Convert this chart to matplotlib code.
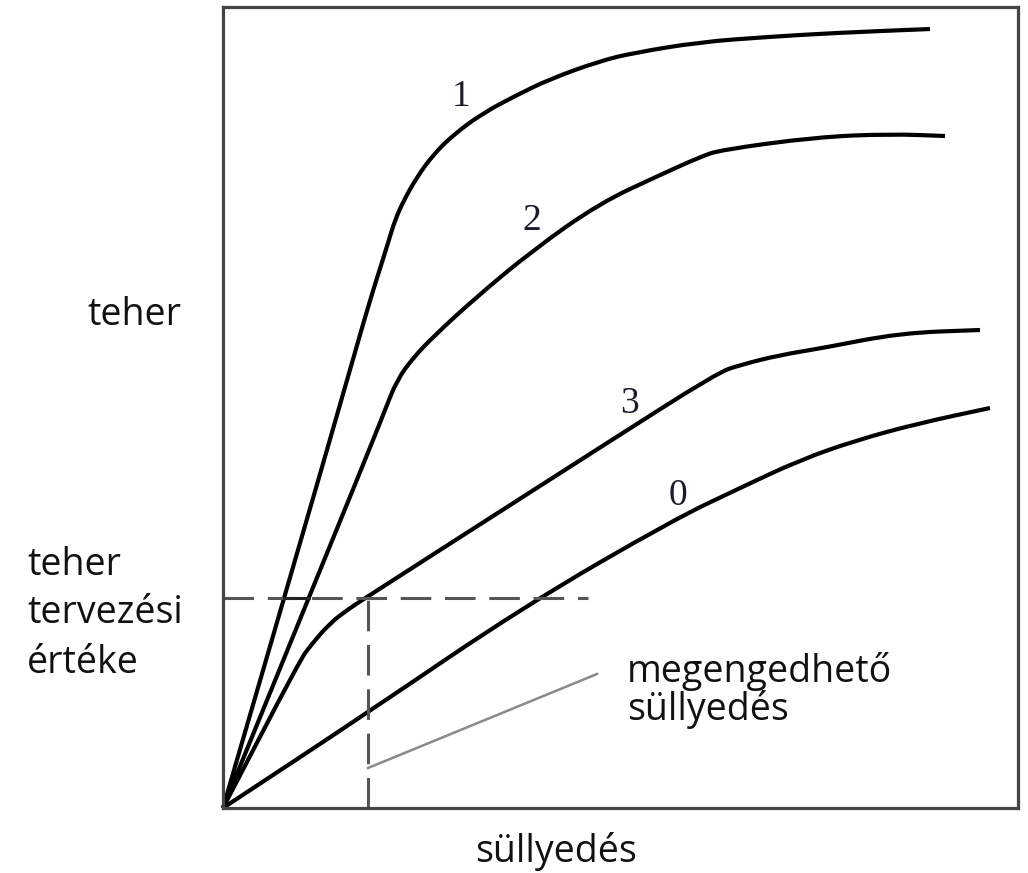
import matplotlib
matplotlib.use('Agg')
import matplotlib.pyplot as plt
from matplotlib.path import Path
from matplotlib.patches import PathPatch

# load-settlement curves (arbitrary units)
x1 = [0, 105, 144, 155, 165, 172, 181, 194, 210, 230, 260, 294, 327, 377, 410, 477, 544, 610, 707]
y1 = [0, 361, 498, 533, 565, 588, 608, 631, 653, 673, 695, 713, 729, 747, 755, 766, 771, 775, 779]

x2 = [0, 149, 162, 174, 190, 210, 250, 310, 377, 437, 477, 497, 594, 667, 722]
y2 = [0, 365, 398, 428, 450, 471, 508, 558, 605, 633, 651, 658, 671, 674, 672]

x3 = [0, 77, 88, 107, 127, 144, 217, 384, 494, 517, 557, 600, 677, 757]
y3 = [0, 148, 163, 185, 200, 211, 258, 365, 435, 443, 453, 460, 475, 478]

x0 = [0, 144, 300, 450, 517, 577, 634, 697, 767]
y0 = [0, 95, 201, 288, 320, 348, 368, 385, 400]

curves = [(x1, y1), (x2, y2), (x3, y3), (x0, y0)]
curve_labels = ['1', '2', '3', '0']
label_pos = [(238, 711), (309, 587), (407, 404), (455, 312)]

design_load = 210
allowed_settlement = 145


def smooth_path(xs, ys):
    # quadratic bezier through midpoints, read points used as control points
    pts = list(zip(xs, ys))
    verts = [pts[0]]
    codes = [Path.MOVETO]
    mid = lambda a, b: ((a[0] + b[0]) / 2, (a[1] + b[1]) / 2)
    verts.append(mid(pts[0], pts[1]))
    codes.append(Path.LINETO)
    for i in range(1, len(pts) - 1):
        verts += [pts[i], mid(pts[i], pts[i + 1])]
        codes += [Path.CURVE3, Path.CURVE3]
    verts.append(pts[-1])
    codes.append(Path.LINETO)
    return Path(verts, codes)


fig = plt.figure(figsize=(10.28, 8.73), dpi=100)
ax = fig.add_axes([223/1028, 65/873, 795/1028, 801/873])
ax.set_xlim(0, 795)
ax.set_ylim(0, 801)
ax.set_xticks([])
ax.set_yticks([])
for s in ax.spines.values():
    s.set_color('#444444')
    s.set_linewidth(2.3)

for cx, cy in curves:
    ax.add_patch(PathPatch(smooth_path(cx, cy), fill=False, edgecolor='black', lw=3.0,
                           capstyle='butt', joinstyle='round', clip_on=False))

for lab, (lx, ly) in zip(curve_labels, label_pos):
    ax.text(lx, ly, lab, fontsize=27, family='Liberation Serif', color='#1a1a2a',
            ha='center', va='center')

# design load / allowed settlement
ax.plot([0, 365], [design_load, design_load], color='#555555', lw=2.2, dashes=(10, 4.5))
ax.plot([allowed_settlement, allowed_settlement], [0, design_load], color='#555555', lw=2.2, dashes=(10, 4.5))
ax.plot([61, 86], [design_load, design_load], color='#222222', lw=2.2)
ax.plot([allowed_settlement, 374], [40, 134], color='#8a8a8a', lw=1.8)

fnt = dict(family='Open Sans', fontsize=27, color='#111111')
W, H = 1028, 873
fig.text(134/W, 1 - 325/H, 'teher', ha='center', va='baseline', **fnt)
fig.text(27/W, 1 - 575/H, 'teher', ha='left', va='baseline', **fnt)
fig.text(27/W, 1 - 623/H, 'tervezési', ha='left', va='baseline', **fnt)
fig.text(27/W, 1 - 673/H, 'értéke', ha='left', va='baseline', **fnt)
fig.text(627/W, 1 - 682/H, 'megengedhető', ha='left', va='baseline', **fnt)
fig.text(627/W, 1 - 720/H, 'süllyedés', ha='left', va='baseline', **fnt)
fig.text(556/W, 1 - 862/H, 'süllyedés', ha='center', va='baseline', **fnt)

fig.savefig('out.png', dpi=100)
